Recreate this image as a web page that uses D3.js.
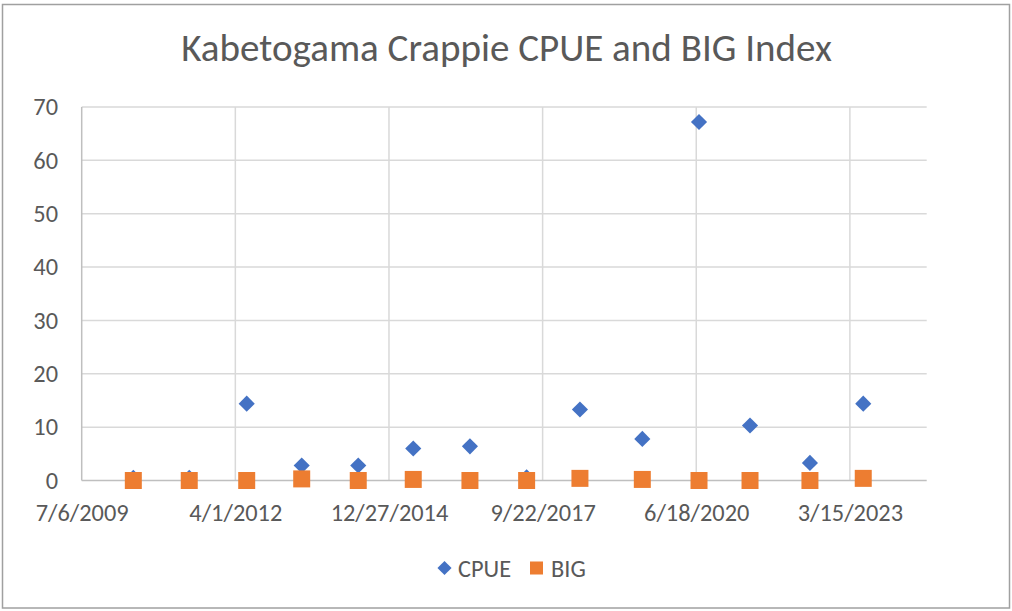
<!DOCTYPE html>
<html>
<head>
<meta charset="utf-8">
<script src="https://cdn.jsdelivr.net/npm/d3@7"></script>
<style>
  html, body { margin: 0; padding: 0; background: #fff; }
  svg { display: block; }
</style>
</head>
<body>
<svg id="chart" width="1012" height="611"></svg>
<script>
// ---------- data ----------
const title = "Kabetogama Crappie CPUE and BIG Index";
const sampleDates = ["2010-06-07","2011-06-06","2012-06-14","2013-06-07","2014-06-10","2015-06-03","2016-06-06","2017-06-10","2018-05-23","2019-07-03","2020-07-06","2021-06-03","2022-06-28","2023-06-10"];
const cpue = [0.5, 0.5, 14.4, 2.8, 2.8, 6.0, 6.4, 0.6, 13.3, 7.8, 67.2, 10.3, 3.3, 14.4];
const big  = [0, 0, 0, 0.3, 0, 0.2, 0, 0, 0.4, 0.2, 0, 0, 0, 0.4];
const seriesNames = ["CPUE", "BIG"];
const seriesColors = ["#4472C4", "#ED7D31"];
// Excel date serials: axis 40000 (7/6/2009) .. 45500, major unit 1000
const xMinSerial = 40000, xMaxSerial = 45500, xStep = 1000;
const yTicks = [0, 10, 20, 30, 40, 50, 60, 70];

(function () {
const excelEpoch = Date.UTC(1899, 11, 30);
const toSerial = s => { const [yy,m,d] = s.split("-").map(Number); return (Date.UTC(yy, m-1, d) - excelEpoch) / 86400000; };
const serialLabel = n => { const d = new Date(excelEpoch + n * 86400000); return (d.getUTCMonth()+1) + "/" + d.getUTCDate() + "/" + d.getUTCFullYear(); };

const FONT = "Carlito, Calibri, Lato, 'Open Sans', sans-serif";
const TXT = "#595959";

const svg = d3.select("#chart");
svg.append("rect").attr("x", 2.5).attr("y", 4.5).attr("width", 1007).attr("height", 603.5)
  .attr("fill", "#fff").attr("stroke", "#a0a0a0").attr("stroke-width", 1.5);

function fitSize(str, target, base) {
  const t = svg.append("text").attr("font-family", FONT).attr("font-size", base).text(str);
  const w = t.node().getComputedTextLength();
  t.remove();
  return base * target / w;
}

const pLeft = 81.7, pRight = 926.7, pTop = 107, pBottom = 480.5;
const x = d3.scaleLinear().domain([xMinSerial, xMaxSerial]).range([pLeft, pRight]);
const y = d3.scaleLinear().domain([0, 70]).range([pBottom, pTop]);

const xTickVals = d3.range(xMinSerial, xMaxSerial + 1, xStep);

const tickSize = fitSize("7/6/2009", 93, 24);
const titleSize = fitSize(title, 651, 32);

const g = svg.append("g");
g.selectAll(".hg").data(yTicks.filter(v => v > 0)).join("line")
  .attr("x1", pLeft).attr("x2", pRight).attr("y1", d => y(d)).attr("y2", d => y(d))
  .attr("stroke", "#d9d9d9").attr("stroke-width", 1.5);
g.selectAll(".vg").data(xTickVals.filter(v => v > xMinSerial)).join("line")
  .attr("x1", d => x(d)).attr("x2", d => x(d)).attr("y1", pTop).attr("y2", pBottom)
  .attr("stroke", "#d9d9d9").attr("stroke-width", 1.5);

g.append("line").attr("x1", pLeft).attr("x2", pRight).attr("y1", pBottom).attr("y2", pBottom)
  .attr("stroke", "#bfbfbf").attr("stroke-width", 1.5);
g.append("line").attr("x1", pLeft).attr("x2", pLeft).attr("y1", pTop).attr("y2", pBottom)
  .attr("stroke", "#bfbfbf").attr("stroke-width", 1.5);

const yAxis = d3.axisLeft(y).tickValues(yTicks).tickSize(0).tickPadding(0);
const ya = svg.append("g").attr("transform", `translate(58,0)`).call(yAxis);
ya.select(".domain").remove();
ya.selectAll("text").attr("font-family", FONT).attr("font-size", tickSize).attr("fill", TXT).attr("x", 0);

const xAxis = d3.axisBottom(x).tickValues(xTickVals).tickFormat(serialLabel).tickSize(0).tickPadding(0);
const xa = svg.append("g").attr("transform", `translate(0,${pBottom + 23})`).call(xAxis);
xa.select(".domain").remove();
xa.selectAll("text").attr("font-family", FONT).attr("font-size", tickSize).attr("fill", TXT).attr("dy", "0.71em");

svg.append("text").attr("x", (181 + 832) / 2).attr("y", 61).attr("text-anchor", "middle")
  .attr("font-family", FONT).attr("font-size", titleSize).attr("fill", TXT).text(title);

const pts = sampleDates.map((d, i) => ({ s: toSerial(d), cpue: cpue[i], big: big[i] }));
svg.append("g").selectAll("path.cpue").data(pts).join("path")
  .attr("transform", d => `translate(${x(d.s)},${y(d.cpue)}) rotate(45)`)
  .attr("d", d3.symbol().type(d3.symbolSquare).size(130)())
  .attr("fill", seriesColors[0]);
svg.append("g").selectAll("path.big").data(pts).join("path")
  .attr("transform", d => `translate(${x(d.s)},${y(d.big)})`)
  .attr("d", d3.symbol().type(d3.symbolSquare).size(17 * 17)())
  .attr("fill", seriesColors[1]);

const legY = 568;
const leg = svg.append("g");
leg.append("path").attr("transform", `translate(444.5,${legY}) rotate(45)`)
  .attr("d", d3.symbol().type(d3.symbolSquare).size(100)()).attr("fill", seriesColors[0]);
leg.append("text").attr("x", 458).attr("y", legY).attr("dy", "0.35em")
  .attr("font-family", FONT).attr("font-size", tickSize).attr("fill", TXT).text(seriesNames[0]);
leg.append("rect").attr("x", 530).attr("y", legY - 6.5).attr("width", 13).attr("height", 13).attr("fill", seriesColors[1]);
leg.append("text").attr("x", 551).attr("y", legY).attr("dy", "0.35em")
  .attr("font-family", FONT).attr("font-size", tickSize).attr("fill", TXT).text(seriesNames[1]);
})();
</script>
</body>
</html>
